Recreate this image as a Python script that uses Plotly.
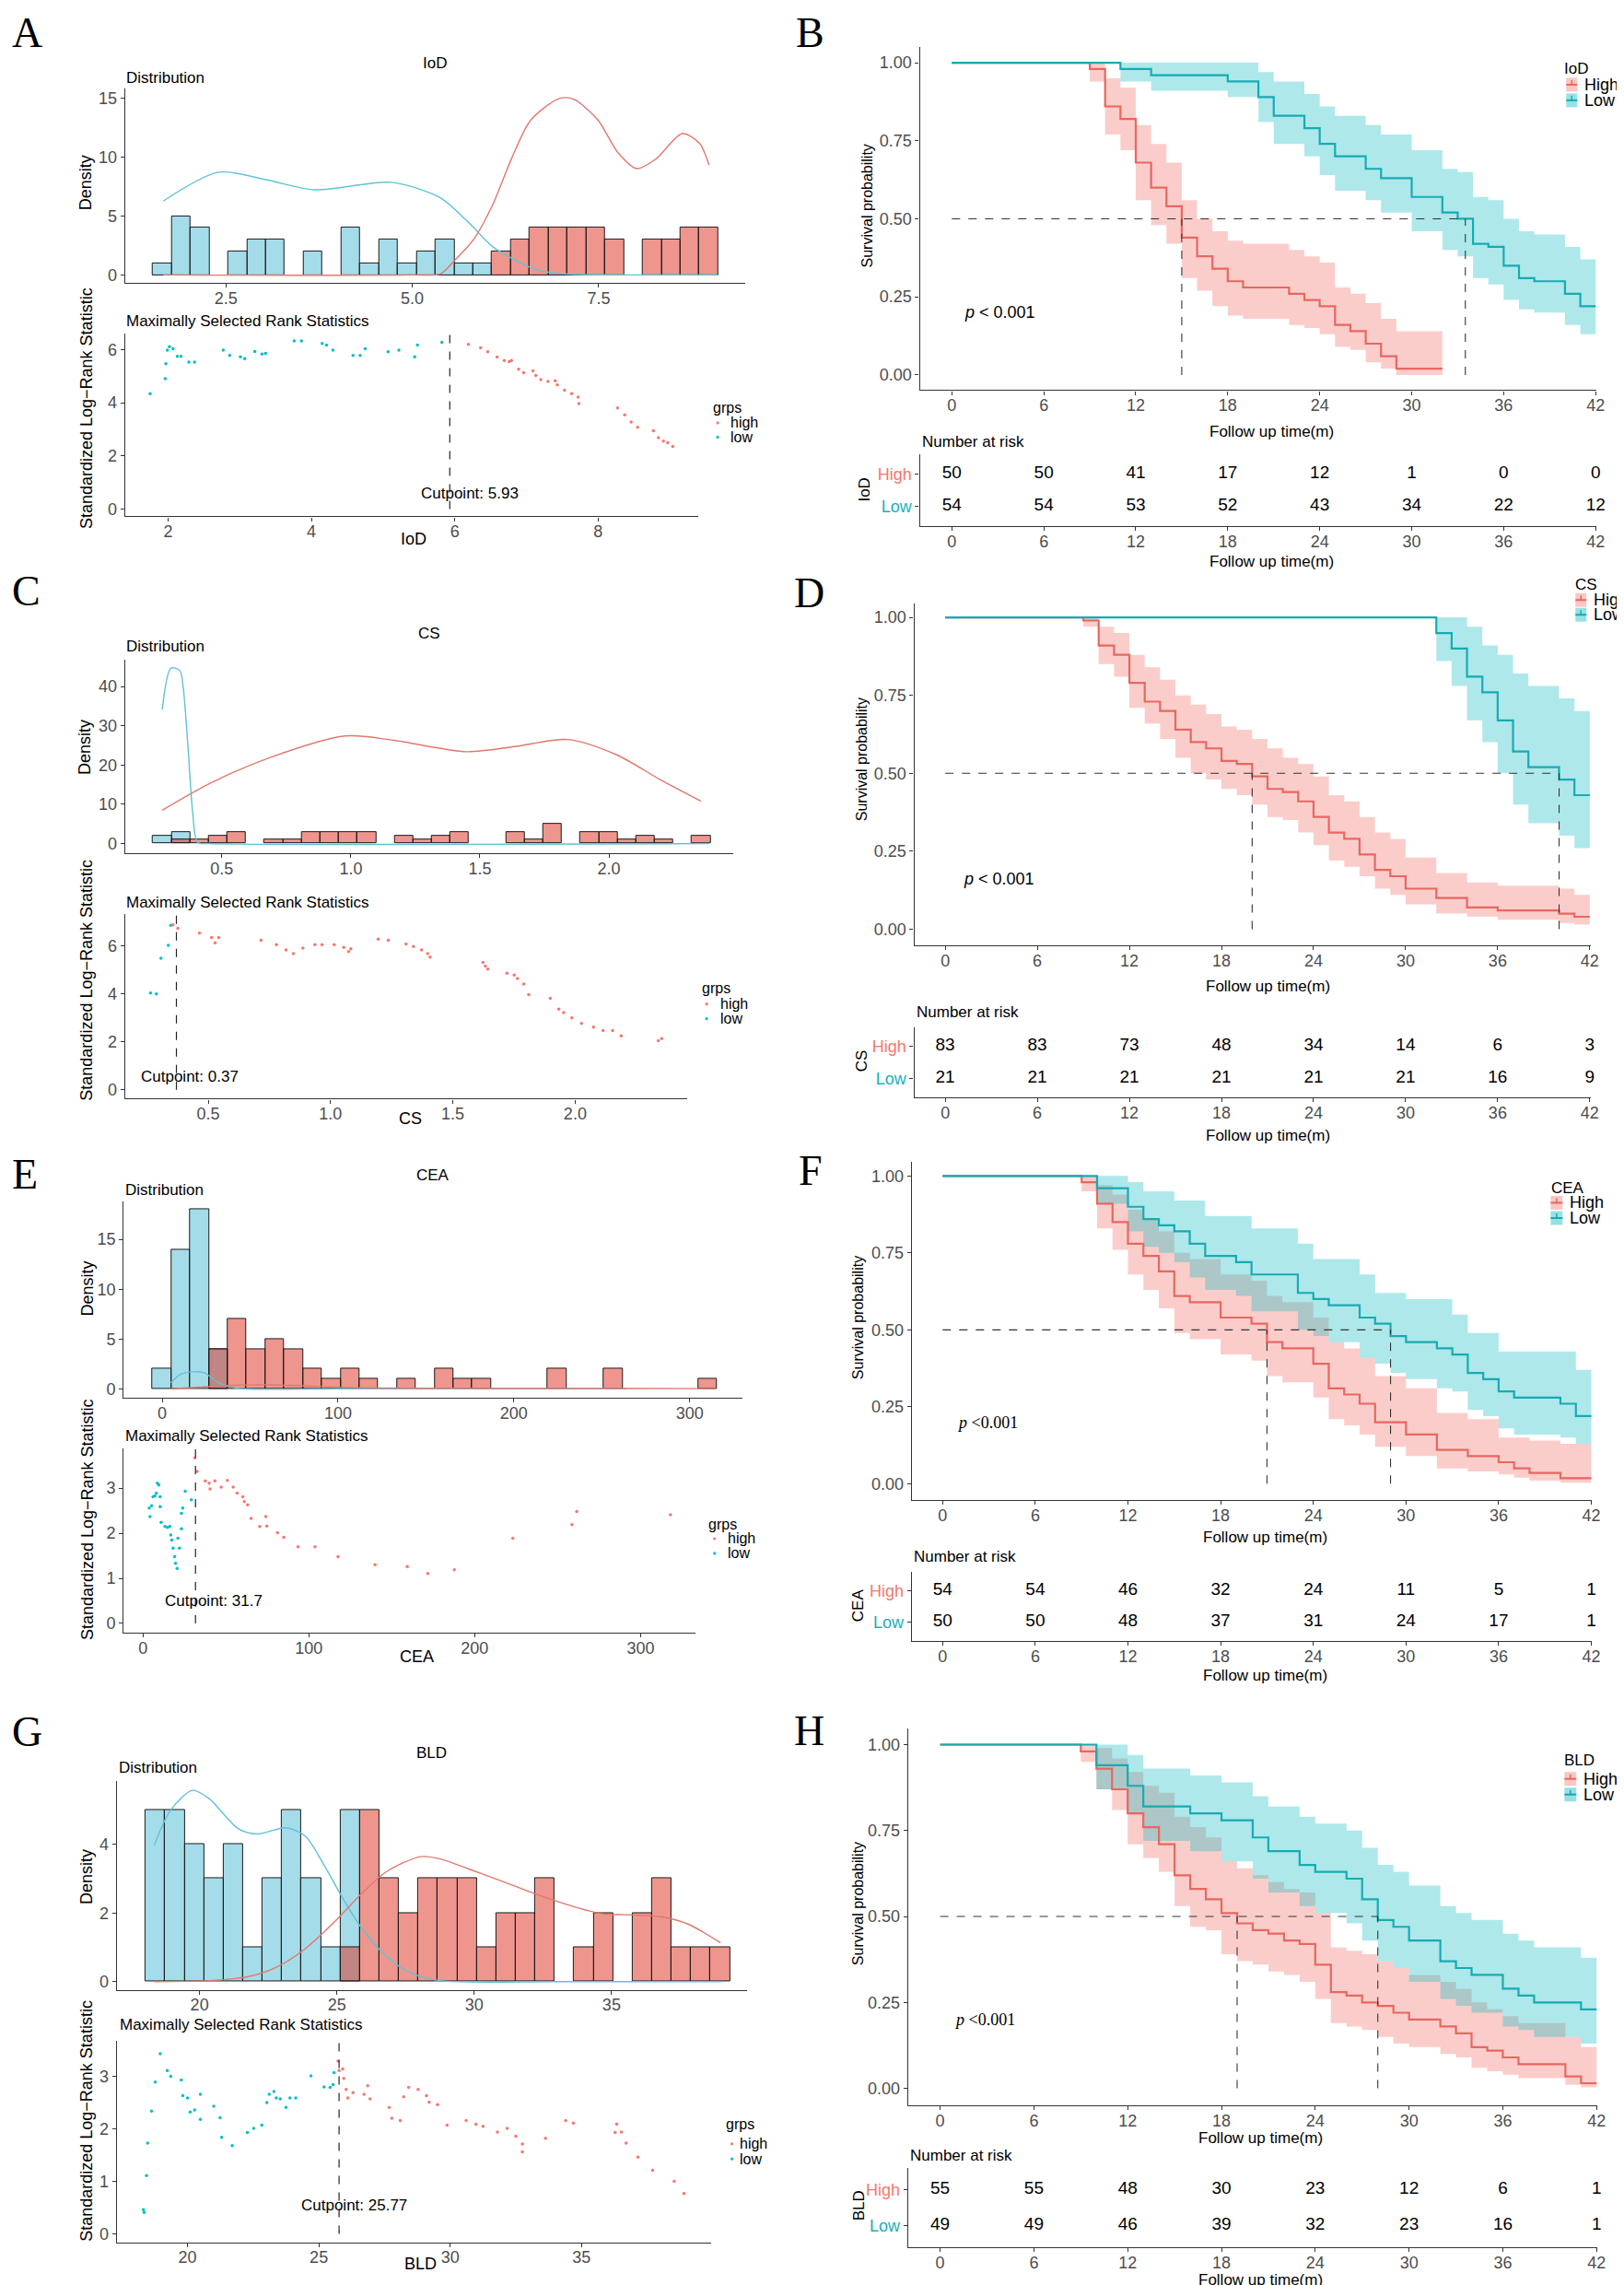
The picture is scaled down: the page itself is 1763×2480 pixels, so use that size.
import plotly.graph_objects as go

W, H = 1763, 2480
SANS = "Liberation Sans, Arial, sans-serif"
SERIF = "Liberation Serif, Times New Roman, serif"
AX = "#333333"
TICK = "#4D4D4D"
RED_PT, BLUE_PT = "#F8766D", "#00BFC4"
RED_LINE, BLUE_LINE = "#E8675F", "#17ABB2"
RED_RIB, BLUE_RIB = "rgba(241,112,106,0.35)", "rgba(24,189,195,0.35)"
RED_BAR, BLUE_BAR = "rgba(221,46,30,0.5)", "rgba(76,186,212,0.5)"
RED_DEN, BLUE_DEN = "#E0786E", "#5EC3D6"

# ---------------- histogram data (30 bins each) ----------------
A_bin_start, A_bin_w = 1.522, 0.2527
A_low_counts = [1, 5, 4, 0, 2, 3, 3, 0, 2, 0, 4, 1, 3, 1, 2, 3, 1, 1, 0, 0, 0, 0, 0, 0, 0, 0, 0, 0, 0, 0]
A_high_counts = [0, 0, 0, 0, 0, 0, 0, 0, 0, 0, 0, 0, 0, 0, 0, 0, 0, 0, 2, 3, 4, 4, 4, 4, 3, 0, 3, 3, 4, 4]
C_bin_start, C_bin_w = 0.2336, 0.072
C_low_counts = [2, 3, 0, 0, 0, 0, 0, 0, 0, 0, 0, 0, 0, 0, 0, 0, 0, 0, 0, 0, 0, 0, 0, 0, 0, 0, 0, 0, 0, 0]
C_high_counts = [0, 1, 1, 2, 3, 0, 1, 1, 3, 3, 3, 3, 0, 2, 1, 2, 3, 0, 0, 3, 1, 5, 0, 3, 3, 1, 2, 1, 0, 2]
E_bin_start, E_bin_w = -5.5, 10.7
E_low_counts = [2, 14, 18, 4, 0, 0, 0, 0, 0, 0, 0, 0, 0, 0, 0, 0, 0, 0, 0, 0, 0, 0, 0, 0, 0, 0, 0, 0, 0, 0]
E_high_counts = [0, 0, 0, 4, 7, 4, 5, 4, 2, 1, 2, 1, 0, 1, 0, 2, 1, 1, 0, 0, 0, 2, 0, 0, 2, 0, 0, 0, 0, 1]
G_bin_start, G_bin_w = 18.04, 0.709
G_low_counts = [5, 5, 4, 3, 4, 1, 3, 5, 3, 1, 5, 0, 0, 0, 0, 0, 0, 0, 0, 0, 0, 0, 0, 0, 0, 0, 0, 0, 0, 0]
G_high_counts = [0, 0, 0, 0, 0, 0, 0, 0, 0, 0, 1, 5, 3, 2, 3, 3, 3, 1, 2, 2, 3, 0, 1, 2, 0, 2, 3, 1, 1, 1]

# ---------------- density curves ----------------
A_den_low_x = [1.66, 2.40, 3.05, 3.69, 4.72, 5.37, 5.75, 6.08, 6.40, 6.66, 7.04, 8.22, 9.10]
A_den_low_y = [6.27, 8.72, 8.07, 7.23, 7.86, 6.57, 4.48, 2.39, 1.20, 0.45, 0.09, 0.0, 0.0]
A_den_high_x = [1.66, 5.0, 5.38, 5.56, 5.82, 6.08, 6.33, 6.59, 6.98, 7.17, 7.49, 7.75, 8.01, 8.27, 8.62, 8.85, 8.98]
A_den_high_y = [0.0, 0.0, 0.1, 1.19, 2.99, 5.98, 9.86, 13.15, 15.0, 14.9, 13.15, 10.46, 9.03, 9.86, 12.0, 11.2, 9.33]
C_den_low_x = [0.269, 0.303, 0.337, 0.35, 0.369, 0.387, 0.406, 0.45, 2.39]
C_den_low_y = [34.1, 44.7, 44.1, 40.0, 24.5, 8.0, 0.3, 0.0, 0.0]
C_den_high_x = [0.269, 0.453, 0.678, 0.978, 1.166, 1.447, 1.635, 1.84, 2.03, 2.198, 2.357]
C_den_high_y = [8.5, 15.3, 21.7, 27.4, 26.3, 23.4, 24.7, 26.5, 22.6, 16.3, 10.8]
E_den_low_x = [4.9, 10, 17.2, 24, 32.2, 43, 100, 264]
E_den_low_y = [0.6, 1.4, 1.7, 1.6, 0.6, 0.05, 0.0, 0.0]
E_den_high_x = [4.9, 20, 40, 60, 80, 100, 150, 200, 264, 315]
E_den_high_y = [0.0, 0.15, 0.35, 0.4, 0.3, 0.15, 0.05, 0.02, 0.02, 0.01]
G_den_low_x = [18.35, 18.95, 19.74, 20.35, 21.4, 22.1, 23.15, 23.85, 24.55, 25.25, 25.95, 26.8, 27.7, 28.74, 33.0, 39.0]
G_den_low_y = [3.97, 5.0, 5.57, 5.33, 4.46, 4.30, 4.48, 4.24, 3.37, 2.38, 1.51, 0.74, 0.25, 0.03, 0.0, 0.0]
G_den_high_x = [18.35, 20.35, 21.75, 22.8, 23.85, 24.9, 25.95, 26.8, 28.04, 28.74, 29.8, 31.0, 32.24, 33.6, 34.7, 35.5, 36.8, 37.8, 38.97]
G_den_high_y = [0.0, 0.03, 0.14, 0.42, 0.96, 1.73, 2.60, 3.20, 3.64, 3.58, 3.28, 2.93, 2.55, 2.19, 1.97, 1.95, 1.89, 1.67, 1.13]

# ---------------- maximally selected rank statistics ----------------
A_cut = 5.93
A_low_x = [1.75, 1.96, 1.97, 1.99, 2.02, 2.07, 2.13, 2.18, 2.29, 2.37, 2.77, 2.86, 3.01, 3.07, 3.21, 3.31, 3.36, 3.76, 3.86, 4.15, 4.21, 4.30, 4.58, 4.68, 4.75, 5.07, 5.22, 5.44, 5.48, 5.82]
A_low_y = [4.34, 4.91, 5.47, 5.98, 6.11, 6.03, 5.75, 5.75, 5.53, 5.53, 5.98, 5.78, 5.73, 5.66, 5.93, 5.83, 5.86, 6.33, 6.33, 6.23, 6.17, 5.98, 5.78, 5.78, 6.03, 5.92, 5.98, 5.73, 6.17, 6.28]
A_high_x = [6.19, 6.36, 6.46, 6.59, 6.69, 6.76, 6.79, 6.89, 6.96, 7.09, 7.13, 7.20, 7.30, 7.40, 7.43, 7.53, 7.63, 7.72, 7.73, 8.27, 8.37, 8.46, 8.55, 8.77, 8.84, 8.91, 8.97, 9.04]
A_high_y = [6.20, 6.07, 5.92, 5.72, 5.59, 5.55, 5.59, 5.26, 5.13, 5.20, 5.03, 4.87, 4.80, 4.83, 4.67, 4.47, 4.34, 4.21, 3.97, 3.81, 3.55, 3.28, 3.08, 2.95, 2.69, 2.56, 2.50, 2.36]
C_cut = 0.37
C_low_x = [0.264, 0.288, 0.307, 0.337, 0.347]
C_low_y = [4.03, 3.99, 5.48, 6.01, 6.85]
C_high_x = [0.356, 0.376, 0.464, 0.514, 0.528, 0.543, 0.716, 0.779, 0.818, 0.848, 0.887, 0.936, 0.965, 1.015, 1.054, 1.074, 1.083, 1.195, 1.236, 1.309, 1.339, 1.372, 1.397, 1.407, 1.623, 1.633, 1.643, 1.721, 1.751, 1.764, 1.79, 1.81, 1.898, 1.933, 1.953, 1.986, 2.026, 2.075, 2.114, 2.153, 2.188, 2.34, 2.354]
C_high_y = [6.87, 6.72, 6.52, 6.34, 6.12, 6.34, 6.22, 6.04, 5.82, 5.67, 5.9, 6.04, 6.04, 6.04, 5.93, 5.75, 5.87, 6.27, 6.22, 6.07, 5.97, 5.82, 5.67, 5.52, 5.30, 5.15, 5.03, 4.85, 4.78, 4.63, 4.40, 3.96, 3.81, 3.36, 3.21, 2.99, 2.76, 2.61, 2.46, 2.46, 2.24, 2.04, 2.13]
E_cut = 31.7
E_low_x = [3.8, 4.3, 5.2, 6.1, 7.2, 8.1, 8.7, 9.6, 10.4, 10.4, 11.0, 13.3, 14.8, 16.2, 16.8, 17.4, 18.2, 19.1, 19.7, 20.6, 21.1, 22.0, 23.2, 23.2, 24.0, 25.5, 29.2]
E_low_y = [2.56, 2.37, 2.61, 2.81, 2.83, 2.89, 3.11, 3.07, 2.81, 2.59, 2.24, 2.15, 2.13, 2.15, 1.96, 1.85, 1.67, 1.48, 1.33, 1.22, 1.89, 1.67, 2.10, 2.44, 2.56, 2.93, 2.74]
E_high_x = [31.3, 32.7, 37.6, 39.9, 40.5, 43.4, 47.2, 50.9, 54.4, 56.8, 60.2, 61.1, 63.1, 65.2, 70.4, 74.1, 74.7, 81.1, 84.9, 93.5, 103.7, 117.6, 139.9, 159.3, 171.7, 187.7, 223.0, 258.6, 261.5, 318.0]
E_high_y = [3.67, 3.37, 3.16, 3.11, 2.98, 3.16, 3.02, 3.17, 3.02, 2.89, 2.81, 2.70, 2.63, 2.33, 2.15, 2.37, 2.16, 2.01, 1.91, 1.70, 1.70, 1.48, 1.30, 1.26, 1.11, 1.19, 1.89, 2.19, 2.48, 2.41]
G_cut = 25.77
G_low_x = [18.32, 18.35, 18.44, 18.48, 18.63, 18.77, 18.96, 19.23, 19.36, 19.76, 19.82, 20.0, 20.1, 20.27, 20.49, 20.49, 21.0, 21.24, 21.3, 21.7, 22.28, 22.52, 22.83, 23.02, 23.11, 23.29, 23.38, 23.53, 23.75, 23.9, 24.12, 24.7, 25.2, 25.43, 25.54, 25.58]
G_low_y = [0.46, 0.41, 1.11, 1.73, 2.34, 2.89, 3.43, 3.11, 3.0, 2.93, 2.63, 2.59, 2.32, 2.36, 2.66, 2.18, 2.43, 2.21, 1.84, 1.68, 1.93, 2.01, 2.07, 2.5, 2.66, 2.71, 2.59, 2.57, 2.41, 2.59, 2.59, 3.01, 2.8, 2.79, 2.84, 3.07]
G_high_x = [25.73, 25.77, 25.91, 25.95, 26.04, 26.1, 26.3, 26.72, 26.86, 26.95, 27.68, 27.78, 28.1, 28.23, 28.42, 28.78, 29.1, 29.2, 29.52, 29.88, 30.61, 30.98, 31.25, 31.8, 32.17, 32.5, 32.75, 32.75, 33.63, 34.4, 34.69, 36.28, 36.34, 36.52, 36.7, 37.15, 37.71, 38.53, 38.9]
G_high_y = [3.29, 3.11, 3.14, 2.96, 2.75, 2.59, 2.69, 2.66, 2.82, 2.57, 2.41, 2.2, 2.16, 2.61, 2.79, 2.75, 2.63, 2.51, 2.46, 2.07, 2.16, 2.09, 2.05, 1.94, 2.01, 1.86, 1.71, 1.56, 1.82, 2.16, 2.11, 1.93, 2.09, 1.94, 1.73, 1.46, 1.21, 1.0, 0.77]

# ---------------- Kaplan-Meier data ----------------
B_high_t = [0, 9, 10, 11, 12, 13, 14, 15, 16, 17, 18, 19, 22, 23, 24, 25, 26, 27, 28, 29, 32]
B_high_s = [1, .98, .86, .82, .68, .60, .54, .44, .38, .34, .30, .28, .26, .24, .22, .16, .14, .10, .06, .02, .02]
B_high_lo = [1, .94, .77, .72, .56, .48, .42, .31, .27, .22, .19, .18, .16, .15, .13, .09, .08, .04, .02, 0.0, 0.0]
B_high_up = [1, 1.0, .95, .92, .80, .74, .68, .56, .50, .46, .43, .42, .40, .38, .36, .28, .26, .23, .18, .14, .14]
B_low_t = [0, 11, 13, 18, 20, 21, 23, 24, 25, 27, 28, 30, 32, 33, 34, 35, 36, 37, 38, 40, 41, 42]
B_low_s = [1, .98, .96, .94, .89, .83, .79, .74, .70, .66, .63, .57, .52, .50, .42, .41, .35, .31, .30, .26, .22, .22]
B_low_lo = [1, .94, .91, .89, .81, .74, .70, .64, .59, .56, .52, .46, .40, .38, .31, .29, .24, .21, .20, .16, .13, .13]
B_low_up = [1, 1.0, 1.0, 1.0, .97, .94, .90, .86, .83, .80, .77, .72, .66, .65, .57, .56, .50, .46, .45, .41, .37, .37]
B_medians = [15, 33.5]

D_high_t = [0, 9, 10, 11, 12, 13, 14, 15, 16, 17, 18, 19, 20, 21, 22, 23, 24, 25, 26, 27, 28, 29, 30, 32, 34, 36, 40, 41, 42]
D_high_s = [1, .99, .91, .88, .79, .73, .70, .64, .60, .58, .54, .53, .49, .45, .44, .41, .36, .31, .29, .24, .19, .17, .13, .10, .07, .06, .05, .04, .04]
D_high_lo = [1, .97, .85, .81, .71, .66, .61, .55, .50, .48, .45, .43, .40, .36, .35, .31, .27, .22, .20, .17, .13, .11, .08, .05, .04, .03, .02, .015, .015]
D_high_up = [1, 1.0, .97, .95, .88, .84, .80, .75, .72, .69, .65, .64, .61, .58, .55, .53, .49, .43, .41, .36, .31, .29, .23, .18, .15, .14, .13, .11, .11]
D_low_t = [0, 32, 33, 34, 35, 36, 37, 38, 40, 41, 42]
D_low_s = [1, .95, .90, .81, .76, .67, .57, .52, .48, .43, .43]
D_low_lo = [1, .86, .78, .67, .60, .50, .40, .34, .30, .26, .26]
D_low_up = [1, 1.0, 1.0, .97, .91, .88, .82, .78, .74, .70, .70]
D_medians = [20, 40]

F_high_t = [0, 9, 10, 11, 12, 13, 14, 15, 16, 18, 20, 21, 22, 24, 25, 26, 27, 28, 30, 32, 34, 36, 37, 38, 40, 42]
F_high_s = [1, .98, .91, .85, .78, .74, .69, .61, .59, .54, .52, .46, .44, .39, .31, .29, .26, .20, .16, .11, .09, .07, .05, .035, .018, .018]
F_high_lo = [1, .95, .83, .76, .68, .63, .57, .49, .47, .42, .40, .35, .33, .28, .21, .19, .16, .12, .09, .05, .04, .03, .02, .01, .003, .003]
F_high_up = [1, 1.0, .97, .94, .89, .86, .82, .75, .73, .68, .66, .61, .59, .54, .46, .44, .41, .35, .31, .23, .21, .15, .15, .14, .13, .13]
F_low_t = [0, 10, 12, 13, 14, 15, 16, 17, 19, 20, 23, 24, 25, 27, 28, 29, 30, 32, 33, 34, 35, 36, 37, 40, 41, 42]
F_low_s = [1, .96, .90, .86, .84, .82, .78, .74, .72, .68, .62, .60, .58, .54, .52, .48, .46, .44, .42, .36, .34, .30, .28, .26, .22, .22]
F_low_lo = [1, .91, .82, .77, .75, .72, .67, .63, .61, .56, .50, .48, .46, .41, .39, .36, .34, .31, .30, .24, .22, .18, .16, .15, .13, .13]
F_low_up = [1, 1.0, .98, .95, .95, .92, .92, .87, .87, .83, .78, .73, .73, .68, .62, .62, .60, .60, .55, .49, .49, .43, .43, .43, .37, .37]
F_medians = [21, 29]

H_high_t = [0, 9, 10, 11, 12, 13, 14, 15, 16, 17, 18, 19, 20, 21, 22, 23, 24, 25, 26, 27, 28, 29, 30, 32, 33, 34, 35, 36, 37, 40, 41, 42]
H_high_s = [1, .98, .93, .87, .80, .76, .71, .62, .58, .55, .51, .48, .46, .45, .43, .42, .36, .28, .27, .25, .24, .22, .20, .18, .16, .12, .11, .09, .07, .035, .015, .015]
H_high_lo = [1, .95, .87, .81, .71, .67, .63, .53, .47, .46, .39, .37, .36, .34, .33, .31, .26, .19, .18, .17, .15, .13, .12, .10, .09, .06, .05, .04, .03, .01, .003, .003]
H_high_up = [1, 1.0, .99, .96, .92, .88, .86, .79, .76, .73, .66, .64, .62, .60, .58, .57, .51, .41, .40, .39, .37, .35, .33, .31, .29, .25, .23, .21, .19, .15, .12, .12]
H_low_t = [0, 10, 12, 13, 16, 18, 20, 21, 23, 24, 26, 27, 28, 29, 30, 32, 33, 34, 36, 37, 38, 41, 42]
H_low_s = [1, .94, .88, .82, .80, .78, .73, .69, .65, .63, .61, .55, .49, .47, .43, .37, .35, .33, .29, .27, .25, .23, .23]
H_low_lo = [1, .87, .80, .72, .69, .66, .61, .57, .53, .51, .48, .43, .37, .35, .31, .26, .24, .22, .18, .17, .15, .13, .13]
H_low_up = [1, 1.0, .97, .93, .91, .89, .85, .82, .79, .77, .75, .70, .65, .63, .59, .53, .51, .49, .45, .43, .41, .38, .38]
H_medians = [19, 28]

risk_times = [0, 6, 12, 18, 24, 30, 36, 42]
B_risk_high = [50, 50, 41, 17, 12, 1, 0, 0]
B_risk_low = [54, 54, 53, 52, 43, 34, 22, 12]
D_risk_high = [83, 83, 73, 48, 34, 14, 6, 3]
D_risk_low = [21, 21, 21, 21, 21, 21, 16, 9]
F_risk_high = [54, 54, 46, 32, 24, 11, 5, 1]
F_risk_low = [50, 50, 48, 37, 31, 24, 17, 1]
H_risk_high = [55, 55, 48, 30, 23, 12, 6, 1]
H_risk_low = [49, 49, 46, 39, 32, 23, 16, 1]

km_yticks = [0, 0.25, 0.5, 0.75, 1.0]
km_yticktext = ["0.00", "0.25", "0.50", "0.75", "1.00"]

# ======================================================================
fig = go.Figure()
layout_axes = {}
annos = []
shapes = []
counter = [0]


def new_axes(x0, x1, y0, y1, xr, yr, xt, yt, xtt=None, ytt=None, fs=18):
    counter[0] += 1
    n = counter[0]
    sx = "" if n == 1 else str(n)
    xn, yn = "x" + sx, "y" + sx
    common = dict(showline=True, linecolor=AX, linewidth=1.4, ticks="outside", ticklen=4,
                  tickcolor=AX, tickwidth=1.1, showgrid=False, zeroline=False,
                  tickfont=dict(family=SANS, size=fs, color=TICK), fixedrange=True)
    xa = dict(domain=[x0 / W, x1 / W], range=xr, anchor=yn, tickvals=xt, ticklabelstandoff=-4, **common)
    ya = dict(domain=[1 - y1 / H, 1 - y0 / H], range=yr, anchor=xn, tickvals=yt, ticklabelstandoff=0, **common)
    if xtt is not None:
        xa["ticktext"] = xtt
    if ytt is not None:
        ya["ticktext"] = ytt
    layout_axes["xaxis" + sx] = xa
    layout_axes["yaxis" + sx] = ya
    return xn, yn


def txt(px, py, text, size=16, color="black", family=SANS, xanchor="left", angle=0):
    annos.append(dict(x=px / W, y=1 - py / H, xref="paper", yref="paper", text=text,
                      showarrow=False, font=dict(size=size, color=color, family=family),
                      xanchor=xanchor, yanchor="middle", textangle=angle))


def hist_panel(ax, start, bw, low_c, high_c, dlx, dly, dhx, dhy):
    for counts, col in ((low_c, BLUE_BAR), (high_c, RED_BAR)):
        xs = [start + (i + 0.5) * bw for i, c in enumerate(counts) if c > 0]
        ys = [c for c in counts if c > 0]
        fig.add_trace(go.Bar(x=xs, y=ys, width=bw, marker=dict(color=col, line=dict(color="#1a1a1a", width=1)),
                             xaxis=ax[0], yaxis=ax[1], showlegend=False, hoverinfo="skip"))
    fig.add_trace(go.Scatter(x=dlx, y=dly, mode="lines", line=dict(color=BLUE_DEN, width=1.4, shape="spline", smoothing=0.8),
                             xaxis=ax[0], yaxis=ax[1], showlegend=False, hoverinfo="skip"))
    fig.add_trace(go.Scatter(x=dhx, y=dhy, mode="lines", line=dict(color=RED_DEN, width=1.4, shape="spline", smoothing=0.8),
                             xaxis=ax[0], yaxis=ax[1], showlegend=False, hoverinfo="skip"))


def stat_panel(ax, lx, ly, hx, hy, cut, yr, label_x, label_y, label):
    fig.add_trace(go.Scatter(x=lx, y=ly, mode="markers", marker=dict(color=BLUE_PT, size=3.5),
                             xaxis=ax[0], yaxis=ax[1], showlegend=False, hoverinfo="skip"))
    fig.add_trace(go.Scatter(x=hx, y=hy, mode="markers", marker=dict(color=RED_PT, size=3.5),
                             xaxis=ax[0], yaxis=ax[1], showlegend=False, hoverinfo="skip"))
    fig.add_trace(go.Scatter(x=[cut, cut], y=yr, mode="lines", line=dict(color="#222", width=1.2, dash="dash"),
                             xaxis=ax[0], yaxis=ax[1], showlegend=False, hoverinfo="skip"))
    annos.append(dict(x=label_x, y=label_y, xref=ax[0], yref=ax[1], text=label, showarrow=False,
                      font=dict(size=17, color="black", family=SANS), xanchor="center", yanchor="middle"))


def grps_legend(tx, ty, dx, lx, yh, yl):
    txt(tx, ty, "grps", size=16)
    for yy, col, lab in ((yh, RED_PT, "high"), (yl, BLUE_PT, "low")):
        shapes.append(dict(type="circle", xref="paper", yref="paper",
                           x0=(dx - 1.6) / W, x1=(dx + 1.6) / W, y0=1 - (yy + 1.6) / H, y1=1 - (yy - 1.6) / H,
                           fillcolor=col, line=dict(width=0)))
        txt(lx, yy, lab, size=16)


def km_panel(ax, hi, lo, medians, p_text, p_font, p_x, p_y):
    for (t, s, l, u), rib in ((hi, RED_RIB), (lo, BLUE_RIB)):
        fig.add_trace(go.Scatter(x=t, y=l, mode="lines", line=dict(width=0, shape="hv"),
                                 xaxis=ax[0], yaxis=ax[1], showlegend=False, hoverinfo="skip"))
        fig.add_trace(go.Scatter(x=t, y=u, mode="lines", line=dict(width=0, shape="hv"), fill="tonexty",
                                 fillcolor=rib, xaxis=ax[0], yaxis=ax[1], showlegend=False, hoverinfo="skip"))
    for (t, s, l, u), col in ((hi, RED_LINE), (lo, BLUE_LINE)):
        fig.add_trace(go.Scatter(x=t, y=s, mode="lines", line=dict(color=col, width=2.2, shape="hv"),
                                 xaxis=ax[0], yaxis=ax[1], showlegend=False, hoverinfo="skip"))
    mx, my = [0, max(medians)], [0.5, 0.5]
    for m in medians:
        mx += [None, m, m]
        my += [None, 0, 0.5]
    fig.add_trace(go.Scatter(x=mx, y=my, mode="lines", line=dict(color="#333", width=1.1, dash="dash"),
                             xaxis=ax[0], yaxis=ax[1], showlegend=False, hoverinfo="skip", connectgaps=False))
    annos.append(dict(x=p_x, y=p_y, xref=ax[0], yref=ax[1], text=p_text, showarrow=False,
                      font=dict(size=18, color="black", family=p_font), xanchor="left", yanchor="middle"))


def risk_panel(ax, high, low):
    for vals, yv in ((high, 2), (low, 1)):
        fig.add_trace(go.Scatter(x=risk_times, y=[yv] * len(vals), mode="text", text=[str(v) for v in vals],
                                 textfont=dict(size=19, color="black", family=SANS), cliponaxis=False,
                                 xaxis=ax[0], yaxis=ax[1], showlegend=False, hoverinfo="skip"))


def km_legend(tx, ty, kx0, kx1, lx, yh, yl, title):
    txt(tx, ty, title, size=17)
    for yy, rib, col, lab in ((yh, "rgba(248,160,155,0.6)", RED_LINE, "High"), (yl, "rgba(80,205,210,0.6)", BLUE_LINE, "Low")):
        shapes.append(dict(type="rect", xref="paper", yref="paper", x0=kx0 / W, x1=kx1 / W,
                           y0=1 - (yy + 7.5) / H, y1=1 - (yy - 7.5) / H, fillcolor=rib, line=dict(width=0)))
        shapes.append(dict(type="line", xref="paper", yref="paper", x0=kx0 / W, x1=kx1 / W,
                           y0=1 - yy / H, y1=1 - yy / H, line=dict(color=col, width=2)))
        xm = (kx0 + kx1) / 2
        shapes.append(dict(type="line", xref="paper", yref="paper", x0=xm / W, x1=xm / W,
                           y0=1 - (yy + 1) / H, y1=1 - (yy - 5) / H, line=dict(color=col, width=1.5)))
        txt(lx, yy, lab, size=18)


def risk_ticktext():
    return ['<span style="color:#17B0B7">Low</span>', '<span style="color:#F8766D">High</span>']


# ---------------------------- Panel A ----------------------------
ax = new_axes(128.4, 804.7, 88, 299.6, [1.148, 9.46], [-0.69, 15.84], [2.5, 5.0, 7.5], [0, 5, 10, 15],
              xtt=["2.5", "5.0", "7.5"])
hist_panel(ax, A_bin_start, A_bin_w, A_low_counts, A_high_counts, A_den_low_x, A_den_low_y, A_den_high_x, A_den_high_y)
ax = new_axes(128.4, 753.4, 354, 553, [1.40, 9.39], [-0.27, 6.62], [2, 4, 6, 8], [0, 2, 4, 6])
stat_panel(ax, A_low_x, A_low_y, A_high_x, A_high_y, A_cut, [0, 6.62], 6.21, 0.6, "Cutpoint: 5.93")
txt(3, 28, "A", size=46, family=SERIF)
txt(466, 60.5, "IoD", size=17, xanchor="center")
txt(128, 76.5, "Distribution", size=17)
txt(85, 191, "Density", size=18, xanchor="center", angle=-90)
txt(128, 340.6, "Maximally Selected Rank Statistics", size=17)
txt(87, 436, "Standardized Log\u2212Rank Statistic", size=18, xanchor="center", angle=-90)
txt(443, 578, "IoD", size=18, xanchor="center")
grps_legend(768, 435.5, 775, 787, 451.5, 467)

# ---------------------------- Panel C ----------------------------
ax = new_axes(128.4, 791.6, 709, 919.3, [0.125, 2.48], [-2.5, 46.8], [0.5, 1.0, 1.5, 2.0, 2.5], [0, 10, 20, 30, 40],
              xtt=["0.5", "1.0", "1.5", "2.0", "2.5"])
hist_panel(ax, C_bin_start, C_bin_w, C_low_counts, C_high_counts, C_den_low_x, C_den_low_y, C_den_high_x, C_den_high_y)
ax = new_axes(128.4, 741.8, 985.4, 1185.8, [0.16, 2.458], [-0.37, 7.31], [0.5, 1.0, 1.5, 2.0], [0, 2, 4, 6],
              xtt=["0.5", "1.0", "1.5", "2.0"])
stat_panel(ax, C_low_x, C_low_y, C_high_x, C_high_y, C_cut, [0, 7.31], 0.425, 0.55, "Cutpoint: 0.37")
txt(3, 634, "C", size=46, family=SERIF)
txt(460, 680, "CS", size=17, xanchor="center")
txt(128, 694.8, "Distribution", size=17)
txt(84, 804.5, "Density", size=18, xanchor="center", angle=-90)
txt(128, 972.6, "Maximally Selected Rank Statistics", size=17)
txt(87, 1057.4, "Standardized Log\u2212Rank Statistic", size=18, xanchor="center", angle=-90)
txt(440, 1207, "CS", size=18, xanchor="center")
grps_legend(756, 1066, 763, 776, 1083, 1099)

# ---------------------------- Panel E ----------------------------
ax = new_axes(126.9, 802, 1298, 1510.8, [-21.9, 330], [-0.9, 18.77], [0, 100, 200, 300], [0, 5, 10, 15])
hist_panel(ax, E_bin_start, E_bin_w, E_low_counts, E_high_counts, E_den_low_x, E_den_low_y, E_den_high_x, E_den_high_y)
ax = new_axes(126.9, 750.7, 1565.4, 1766.4, [-11.6, 333], [-0.21, 3.89], [0, 100, 200, 300], [0, 1, 2, 3])
stat_panel(ax, E_low_x, E_low_y, E_high_x, E_high_y, E_cut, [0, 3.89], 42.9, 0.5, "Cutpoint: 31.7")
txt(3, 1268, "E", size=46, family=SERIF)
txt(464, 1269, "CEA", size=17, xanchor="center")
txt(127, 1285.4, "Distribution", size=17)
txt(87, 1392.7, "Density", size=18, xanchor="center", angle=-90)
txt(127, 1552.6, "Maximally Selected Rank Statistics", size=17)
txt(87, 1643.5, "Standardized Log\u2212Rank Statistic", size=18, xanchor="center", angle=-90)
txt(446.7, 1791.8, "CEA", size=18, xanchor="center")
grps_legend(762.8, 1648, 771.7, 783.7, 1664, 1680)

# ---------------------------- Panel G ----------------------------
ax = new_axes(119.5, 807, 1927.8, 2154.3, [16.99, 39.93], [-0.24, 5.83], [20, 25, 30, 35, 40], [0, 2, 4])
hist_panel(ax, G_bin_start, G_bin_w, G_low_counts, G_high_counts, G_den_low_x, G_den_low_y, G_den_high_x, G_den_high_y)
ax = new_axes(119.5, 768, 2209.4, 2428.6, [17.31, 39.94], [-0.16, 3.68], [20, 25, 30, 35, 40], [0, 1, 2, 3])
stat_panel(ax, G_low_x, G_low_y, G_high_x, G_high_y, G_cut, [0, 3.68], 26.35, 0.54, "Cutpoint: 25.77")
txt(3, 1874, "G", size=46, family=SERIF)
txt(463, 1897, "BLD", size=17, xanchor="center")
txt(119.5, 1912.6, "Distribution", size=17)
txt(87, 2031.8, "Density", size=18, xanchor="center", angle=-90)
txt(121, 2191.8, "Maximally Selected Rank Statistics", size=17)
txt(87, 2297, "Standardized Log\u2212Rank Statistic", size=18, xanchor="center", angle=-90)
txt(450.8, 2452, "BLD", size=18, xanchor="center")
grps_legend(782, 2300, 790.6, 797, 2321.6, 2338)

# ---------------------------- Panel B ----------------------------
ax = new_axes(995.6, 1733.9, 43.5, 416, [-2.09, 42.05], [-0.049, 1.049], risk_times, km_yticks, ytt=km_yticktext)
km_panel(ax, (B_high_t, B_high_s, B_high_lo, B_high_up), (B_low_t, B_low_s, B_low_lo, B_low_up), B_medians,
         "<i>p</i> < 0.001", SANS, 0.7, 0.2)
ax = new_axes(995.6, 1733.9, 485.6, 563.5, [-2.09, 42.05], [0.4, 2.6], risk_times, [1, 2], ytt=risk_ticktext())
risk_panel(ax, B_risk_high, B_risk_low)
txt(858, 28, "B", size=46, family=SERIF)
txt(938, 215.5, "Survival probability", size=16, xanchor="center", angle=-90)
txt(1380, 460.7, "Follow up time(m)", size=17, xanchor="center")
txt(995.6, 471.7, "Number at risk", size=17)
txt(935, 524, "IoD", size=17, xanchor="center", angle=-90)
txt(1380, 602, "Follow up time(m)", size=17, xanchor="center")
km_legend(1697, 67, 1701, 1713, 1718.7, 84, 101, "IoD")

# ---------------------------- Panel D ----------------------------
ax = new_axes(989.7, 1727.5, 648, 1019, [-2.01, 42.05], [-0.051, 1.044], risk_times, km_yticks, ytt=km_yticktext)
km_panel(ax, (D_high_t, D_high_s, D_high_lo, D_high_up), (D_low_t, D_low_s, D_low_lo, D_low_up), D_medians,
         "<i>p</i> < 0.001", SANS, 1.1, 0.162)
ax = new_axes(989.7, 1727.5, 1108, 1184.5, [-2.01, 42.05], [0.4, 2.6], risk_times, [1, 2], ytt=risk_ticktext())
risk_panel(ax, D_risk_high, D_risk_low)
txt(856, 636, "D", size=46, family=SERIF)
txt(932, 817, "Survival probability", size=16, xanchor="center", angle=-90)
txt(1375.8, 1064, "Follow up time(m)", size=17, xanchor="center")
txt(989.7, 1092, "Number at risk", size=17)
txt(932, 1144.4, "CS", size=17, xanchor="center", angle=-90)
txt(1375.8, 1225.5, "Follow up time(m)", size=17, xanchor="center")
km_legend(1709, 627, 1711, 1723, 1729, 644, 660, "CS")

# ---------------------------- Panel F ----------------------------
ax = new_axes(986.8, 1729.2, 1254.5, 1621.7, [-2.0, 42.05], [-0.052, 1.046], risk_times, km_yticks, ytt=km_yticktext)
km_panel(ax, (F_high_t, F_high_s, F_high_lo, F_high_up), (F_low_t, F_low_s, F_low_lo, F_low_up), F_medians,
         "<i>p</i> &lt;0.001", SERIF, 0.8, 0.2)
ax = new_axes(986.8, 1729.2, 1700, 1775, [-2.0, 42.05], [0.4, 2.6], risk_times, [1, 2], ytt=risk_ticktext())
risk_panel(ax, F_risk_high, F_risk_low)
txt(861, 1264, "F", size=46, family=SERIF)
txt(929, 1423.6, "Survival probability", size=16, xanchor="center", angle=-90)
txt(1372.3, 1662.5, "Follow up time(m)", size=17, xanchor="center")
txt(986.8, 1684, "Number at risk", size=17)
txt(929, 1736, "CEA", size=17, xanchor="center", angle=-90)
txt(1372.3, 1813, "Follow up time(m)", size=17, xanchor="center")
km_legend(1682.6, 1283, 1684, 1697, 1703, 1299, 1315.6, "CEA")

# ---------------------------- Panel H ----------------------------
ax = new_axes(982.8, 1735, 1870.6, 2280, [-2.05, 42.05], [-0.05, 1.046], risk_times, km_yticks, ytt=km_yticktext)
km_panel(ax, (H_high_t, H_high_s, H_high_lo, H_high_up), (H_low_t, H_low_s, H_low_lo, H_low_up), H_medians,
         "<i>p</i> &lt;0.001", SERIF, 0.8, 0.2)
ax = new_axes(982.8, 1735, 2348, 2433.9, [-2.05, 42.05], [0.4, 2.6], risk_times, [1, 2], ytt=risk_ticktext())
risk_panel(ax, H_risk_high, H_risk_low)
txt(856, 1873, "H", size=46, family=SERIF)
txt(929, 2060.4, "Survival probability", size=16, xanchor="center", angle=-90)
txt(1367, 2315, "Follow up time(m)", size=17, xanchor="center")
txt(982.8, 2334, "Number at risk", size=17)
txt(929, 2389, "BLD", size=17, xanchor="center", angle=-90)
txt(1367, 2469.5, "Follow up time(m)", size=17, xanchor="center")
km_legend(1697, 1905, 1699, 1712, 1717.6, 1925, 1942, "BLD")

fig.update_layout(
    width=W, height=H, margin=dict(l=0, r=0, t=0, b=0),
    paper_bgcolor="white", plot_bgcolor="white", barmode="overlay", bargap=0,
    showlegend=False, annotations=annos, shapes=shapes,
    font=dict(family=SANS, color="black"),
    **layout_axes,
)
fig.write_html("out.html")
